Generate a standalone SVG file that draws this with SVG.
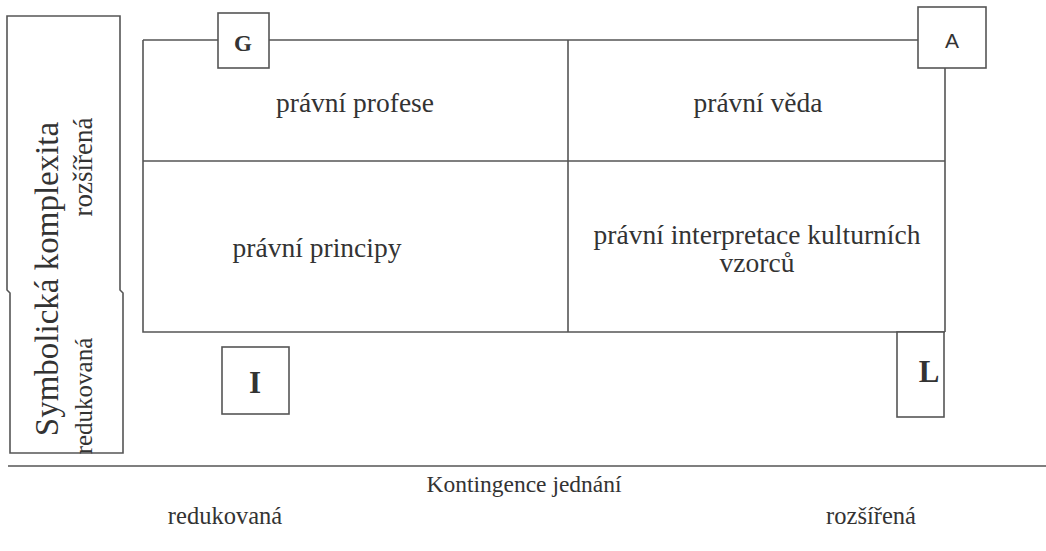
<svg xmlns="http://www.w3.org/2000/svg" width="1046" height="551" viewBox="0 0 1046 551">
<style>
.ln{fill:none;stroke:#555;stroke-width:1.6}
.bx{fill:#fff;stroke:#555;stroke-width:1.6}
.t{font-family:"Liberation Serif","Times New Roman",serif;fill:#333;text-anchor:middle}
.c{font-size:27.5px}
.b{font-weight:bold}
</style>
<rect width="1046" height="551" fill="#fff"/>
<g id="connectors">
<path class="ln" d="M143,40 H945 V332"/>
<path class="ln" d="M143,40 V332 H945"/>
<path class="ln" d="M568,40 V332"/>
<path class="ln" d="M143,161 H945"/>
<path class="ln" d="M8,466 H1046"/>
</g>
<g id="axis-y">
<path class="ln" d="M7,16 H120 V290 L123,293 V453 H10 V293 L7,290 Z"/>
<text class="t" font-size="33" transform="translate(58,279) rotate(-90)">Symbolická komplexita</text>
<text class="t" font-size="27" transform="translate(92,167) rotate(-90)">rozšířená</text>
<text class="t" font-size="25" transform="translate(92,396) rotate(-90)">redukovaná</text>
</g>
<g id="cell-g"><text class="t c" x="355" y="112">právní profese</text></g>
<g id="cell-a"><text class="t c" x="758" y="112">právní věda</text></g>
<g id="cell-i"><text class="t c" x="317" y="257">právní principy</text></g>
<g id="cell-l"><text class="t c" x="757" y="244">právní interpretace kulturních</text><text class="t c" x="757" y="272">vzorců</text></g>
<g id="G"><rect class="bx" x="218" y="13" width="51" height="55"/><text class="t b" font-size="23" x="243" y="51">G</text></g>
<g id="A"><rect class="bx" x="918" y="7" width="68" height="61"/><text font-family="Liberation Sans,Arial,sans-serif" fill="#333" text-anchor="middle" font-size="21" x="952" y="48">A</text></g>
<g id="I"><rect class="bx" x="222" y="347" width="67" height="67"/><text class="t b" font-size="31" x="255" y="393">I</text></g>
<g id="L"><rect class="bx" x="897" y="332" width="47" height="85"/><text class="t b" font-size="31" x="929" y="382">L</text></g>
<g id="axis-x">
<text class="t" font-size="23.5" x="524" y="492">Kontingence jednání</text>
<text class="t" font-size="24.5" x="225" y="524">redukovaná</text>
<text class="t" font-size="24.5" x="871" y="524">rozšířená</text>
</g>
</svg>
